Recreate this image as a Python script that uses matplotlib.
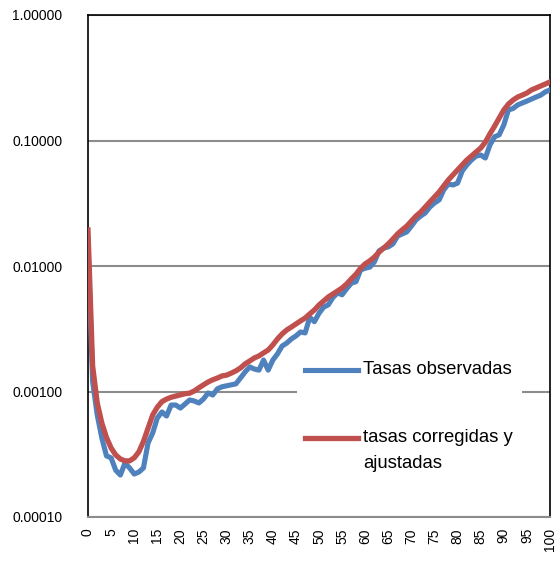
import matplotlib
matplotlib.use("Agg")
import matplotlib.pyplot as plt
from matplotlib.lines import Line2D
from matplotlib.patches import Rectangle
import numpy as np

ages = list(range(0, 101))

tasas_observadas = [
    0.0147, 0.0012, 0.00065, 0.000426, 0.000307, 0.000296, 0.000236, 0.000216, 0.000269, 0.000246,
    0.00022, 0.000228, 0.000246, 0.000389, 0.000467, 0.000615, 0.000687, 0.000638, 0.00078, 0.00078,
    0.000738, 0.000795, 0.000856, 0.00084, 0.00081, 0.000872, 0.000973, 0.000938, 0.00105, 0.00109,
    0.00111, 0.00113, 0.00115, 0.00128, 0.00143, 0.00157, 0.00151, 0.00148, 0.00178, 0.00148,
    0.00178, 0.00199, 0.0023, 0.00243, 0.00262, 0.00277, 0.00298, 0.00293, 0.0039, 0.0036,
    0.0042, 0.0047, 0.0049, 0.0056, 0.0061, 0.0059, 0.0066, 0.0073, 0.0075, 0.0093,
    0.0096, 0.0098, 0.0108, 0.0132, 0.0139, 0.0142, 0.015, 0.0173, 0.018, 0.0187,
    0.0208, 0.0233, 0.025, 0.0265, 0.0295, 0.0318, 0.0336, 0.0404, 0.045, 0.0442,
    0.0458, 0.0571, 0.0639, 0.0699, 0.0752, 0.0766, 0.0725, 0.0922, 0.107, 0.111,
    0.133, 0.175, 0.18, 0.192, 0.199, 0.206, 0.214, 0.222, 0.23, 0.244,
    0.253,
]

tasas_ajustadas = [
    0.0194, 0.0016, 0.00081, 0.00056, 0.00043, 0.000355, 0.000312, 0.00029, 0.00028, 0.00028,
    0.000296, 0.00033, 0.0004, 0.00051, 0.00065, 0.00075, 0.00083, 0.00087, 0.0009, 0.00092,
    0.00094, 0.00096, 0.00097, 0.00101, 0.00107, 0.00113, 0.00119, 0.00124, 0.00128, 0.00133,
    0.00135, 0.0014, 0.00146, 0.00154, 0.00166, 0.00175, 0.00185, 0.00192, 0.00203, 0.00214,
    0.00235, 0.00262, 0.00287, 0.00309, 0.00326, 0.00345, 0.00365, 0.00385, 0.00415, 0.00446,
    0.00489, 0.00526, 0.00566, 0.00598, 0.00632, 0.00668, 0.0072, 0.0079, 0.0086, 0.0096,
    0.0104, 0.011, 0.0118, 0.0129, 0.0139, 0.015, 0.0164, 0.018, 0.0194, 0.0208,
    0.0228, 0.025, 0.0269, 0.0295, 0.0324, 0.0355, 0.0389, 0.0435, 0.0485, 0.0532,
    0.0583, 0.0639, 0.07, 0.0752, 0.081, 0.087, 0.097, 0.113, 0.13, 0.151,
    0.175, 0.195, 0.21, 0.222, 0.23, 0.239, 0.253, 0.262, 0.272, 0.282,
    0.293,
]

series_labels = ["Tasas observadas", "tasas corregidas y\najustadas"]
x_ticks = list(range(0, 101, 5))
y_ticks = [0.0001, 0.001, 0.01, 0.1, 1.0]
y_ticklabels = ["0.00010", "0.00100", "0.01000", "0.10000", "1.00000"]

blue = "#4F81BD"
red = "#C0504D"
W, H = 558, 562

plt.rcParams["font.family"] = ["Liberation Sans", "DejaVu Sans"]
fig = plt.figure(figsize=(W / 100, H / 100), dpi=100)
ax = fig.add_axes([88 / W, 1 - 517 / H, (550 - 88) / W, (517 - 15) / H])

ax.set_yscale("log")
ax.set_ylim(0.0001, 1.0)
ax.set_xlim(0, 100)

for yv in y_ticks:
    ax.axhline(yv, color="#8c8c8c", lw=1.5, zorder=1)

ax.plot(ages, tasas_observadas, color=blue, lw=3.7, solid_joinstyle="round", zorder=3)
ax.plot(ages, tasas_ajustadas, color=red, lw=3.8, solid_joinstyle="round", zorder=4)

ax.set_yticks(y_ticks)
ax.set_yticklabels(y_ticklabels)
ax.yaxis.set_minor_locator(matplotlib.ticker.NullLocator())
ax.set_xticks(x_ticks)
ax.set_xticklabels([str(v) for v in x_ticks], rotation=90)
ax.tick_params(axis="y", length=0, pad=18.5, labelsize=10)
ax.tick_params(axis="x", length=0, pad=8, labelsize=10)

for s in ["left", "top", "right"]:
    ax.spines[s].set_color("black")
    ax.spines[s].set_linewidth(1.2)
ax.spines["bottom"].set_color("#8c8c8c")
ax.spines["bottom"].set_linewidth(1.5)

# legend (manual, in figure pixel coordinates)
def fx(px):
    return px / W

def fy(py):
    return 1 - py / H

fig.add_artist(Rectangle((fx(297), fy(495)), fx(522) - fx(297), fy(345) - fy(495),
                         transform=fig.transFigure, facecolor="white", edgecolor="none", zorder=5))
fig.add_artist(Line2D([fx(305), fx(358)], [fy(370), fy(370)], transform=fig.transFigure,
                      color=blue, lw=3.7, zorder=6))
fig.add_artist(Line2D([fx(305), fx(358)], [fy(438), fy(438)], transform=fig.transFigure,
                      color=red, lw=3.8, zorder=6))
fs = 13.3
fig.text(fx(363), fy(370), series_labels[0], fontsize=fs, va="center", ha="left", zorder=7)
fig.text(fx(363), fy(438), series_labels[1].split("\n")[0], fontsize=fs, va="center", ha="left", zorder=7)
fig.text(fx(363), fy(464), series_labels[1].split("\n")[1], fontsize=fs, va="center", ha="left", zorder=7)

fig.savefig("out.png", dpi=100)
